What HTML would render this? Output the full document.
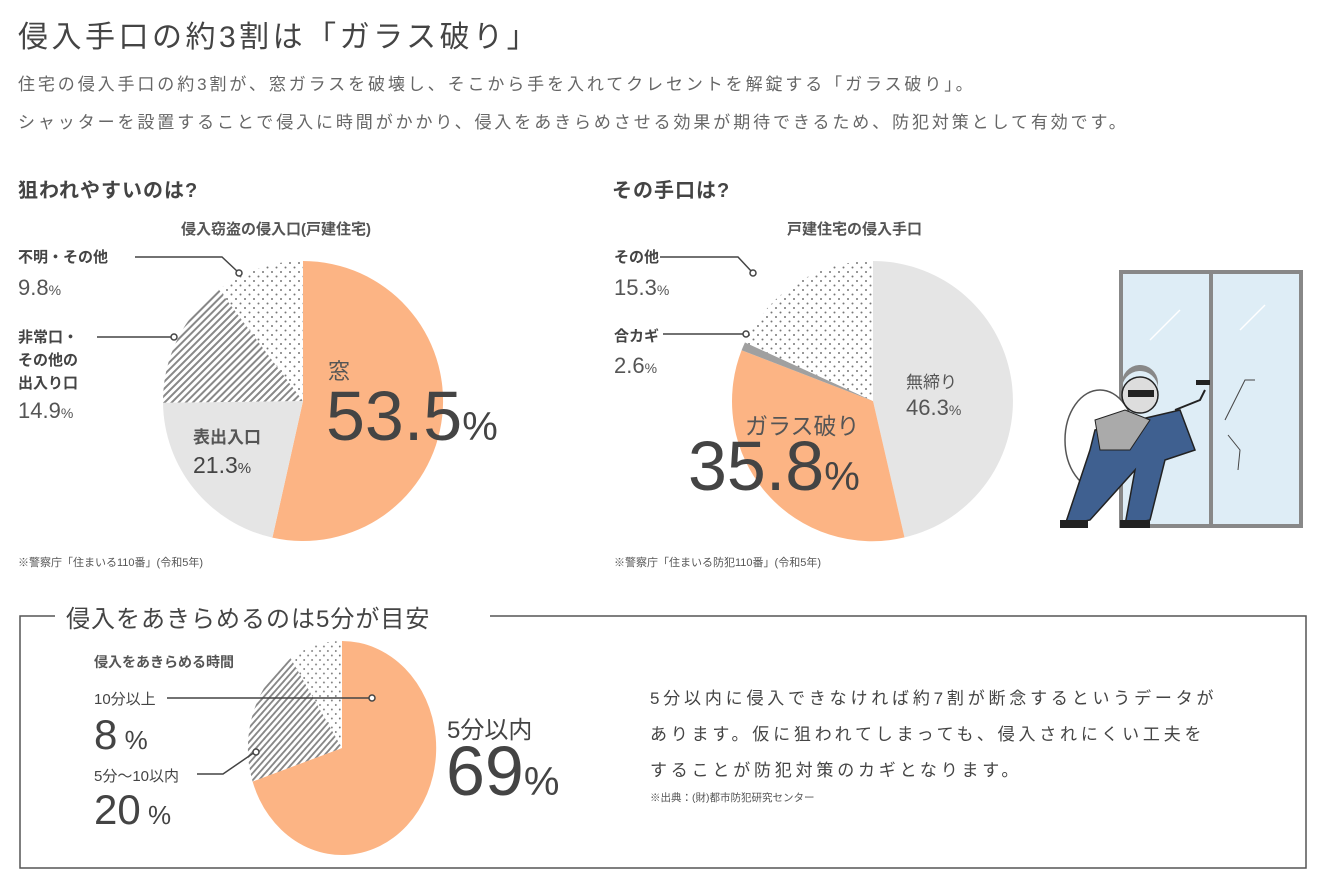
<!DOCTYPE html>
<html><head><meta charset="utf-8"><style>
body{margin:0;width:1319px;height:877px;background:#fff;font-family:"Liberation Sans","Noto Sans CJK JP",sans-serif;color:#444;position:relative;overflow:hidden}
.t{position:absolute;white-space:nowrap}
</style></head><body>
<div class="t" style="left:18px;top:12px;font-size:30px;color:#444;letter-spacing:3.5px">侵入手口の約3割は「ガラス破り」</div>
<div class="t" style="left:18px;top:70px;font-size:17px;color:#666;letter-spacing:2.9px">住宅の侵入手口の約3割が、窓ガラスを破壊し、そこから手を入れてクレセントを解錠する「ガラス破り」。</div>
<div class="t" style="left:18px;top:108px;font-size:17px;color:#666;letter-spacing:2.9px">シャッターを設置することで侵入に時間がかかり、侵入をあきらめさせる効果が期待できるため、防犯対策として有効です。</div>
<div class="t" style="left:18px;top:174px;font-size:20px;font-weight:bold;color:#444;letter-spacing:1px">狙われやすいのは?</div>
<div class="t" style="left:612px;top:174px;font-size:20px;font-weight:bold;color:#444;letter-spacing:1px">その手口は?</div>

<svg width="1319" height="877" style="position:absolute;left:0;top:0">
<defs>
<pattern id="dots" width="9" height="9" patternUnits="userSpaceOnUse"><rect width="9" height="9" fill="#fff"/><circle cx="2" cy="2" r="1" fill="#777"/><circle cx="6.5" cy="6.5" r="1" fill="#777"/></pattern>
<pattern id="hatch" width="5" height="5" patternUnits="userSpaceOnUse" patternTransform="rotate(45)"><rect width="5" height="5" fill="#fff"/><rect width="2" height="5" fill="#888"/></pattern>
</defs>
<g>
<path d="M303,401 L303,261 A140,140 0 1,1 272.4,537.6 Z" fill="#fcb484"/>
<path d="M303,401 L272.4,537.6 A140,140 0 0,1 163,402.7 Z" fill="#e5e5e5"/>
<path d="M303,401 L163,402.7 A140,140 0 0,1 218.7,289.3 Z" fill="url(#hatch)"/>
<path d="M303,401 L218.7,289.3 A140,140 0 0,1 303,261 Z" fill="url(#dots)"/>
</g>
<polyline points="135,257 222,257 238,272" fill="none" stroke="#444" stroke-width="1.5"/><circle cx="239" cy="273" r="3" fill="#fff" stroke="#444" stroke-width="1.5"/>
<polyline points="97,337 172,337" fill="none" stroke="#444" stroke-width="1.5"/><circle cx="174" cy="337" r="3" fill="#fff" stroke="#444" stroke-width="1.5"/>
<g>
<path d="M873,401 L873,261 A140,140 0 0,1 904.5,537.4 Z" fill="#e5e5e5"/>
<path d="M873,401 L904.5,537.4 A140,140 0 0,1 741.6,350.3 Z" fill="#fcb484"/>
<path d="M873,401 L741.6,350.3 A140,140 0 0,1 745,342.4 Z" fill="#a0a0a0"/>
<path d="M873,401 L745,342.4 A140,140 0 0,1 873,261 Z" fill="url(#dots)"/>
</g>
<polyline points="660,257 738,257 752,272" fill="none" stroke="#444" stroke-width="1.5"/><circle cx="753" cy="273" r="3" fill="#fff" stroke="#444" stroke-width="1.5"/>
<polyline points="663,334 745,334" fill="none" stroke="#444" stroke-width="1.5"/><circle cx="746" cy="334" r="3" fill="#fff" stroke="#444" stroke-width="1.5"/>
<rect x="1119" y="270" width="184" height="258" fill="#888"/>
<rect x="1123" y="274" width="86" height="250" fill="#deedf6"/>
<rect x="1213" y="274" width="86" height="250" fill="#deedf6"/>
<line x1="1150" y1="340" x2="1180" y2="310" stroke="#fff" stroke-width="1.5"/>
<line x1="1240" y1="330" x2="1265" y2="305" stroke="#fff" stroke-width="1.5"/>
<polyline points="1225,420 1235,400 1245,380 1255,380" fill="none" stroke="#444"/>
<polyline points="1228,435 1240,450 1238,470" fill="none" stroke="#444"/>
<ellipse cx="1100" cy="440" rx="35" ry="50" fill="#fff" stroke="#555" stroke-width="1.5"/>
<path d="M1095,430 L1180,410 L1195,450 L1165,460 L1150,520 L1125,525 L1135,470 L1090,520 L1065,525 L1090,450 Z" fill="#3f6090" stroke="#222" stroke-width="1.5"/>
<path d="M1095,420 L1125,410 L1150,420 L1130,450 L1100,450 Z" fill="#aaa" stroke="#222"/>
<circle cx="1140" cy="395" r="18" fill="#ddd" stroke="#222" stroke-width="1.5"/>
<path d="M1122,390 A18,18 0 0,1 1158,388 L1158,382 A18,18 0 0,0 1122,384 Z" fill="#888"/>
<rect x="1128" y="390" width="26" height="7" fill="#222"/>
<path d="M1175,410 L1200,400 L1205,390" fill="none" stroke="#222" stroke-width="2"/>
<rect x="1196" y="380" width="14" height="5" fill="#222"/>
<rect x="1060" y="520" width="28" height="8" fill="#222"/><rect x="1120" y="520" width="30" height="8" fill="#222"/>
<polyline points="55,616 20,616 20,868 1306,868 1306,616 490,616" fill="none" stroke="#555" stroke-width="1.5"/>
<g transform="translate(342,748) scale(0.88,1)">
<path d="M0,0 L0,-107 A107,107 0 1,1 -101.6,33.5 Z" fill="#fcb484"/>
<path d="M0,0 L-101.6,33.5 A107,107 0 0,1 -58.3,-89.7 Z" fill="url(#hatch)"/>
<path d="M0,0 L-58.3,-89.7 A107,107 0 0,1 0,-107 Z" fill="url(#dots)"/>
</g>
<line x1="167" y1="698" x2="370" y2="698" stroke="#444" stroke-width="1.5"/><circle cx="372" cy="698" r="3" fill="#fff" stroke="#444" stroke-width="1.5"/>
<polyline points="197,774 223,774 255,752" fill="none" stroke="#444" stroke-width="1.5"/><circle cx="256" cy="752" r="3" fill="#fff" stroke="#444" stroke-width="1.5"/>
</svg>

<div class="t" style="left:181px;top:218px;font-size:15px;font-weight:bold;color:#555">侵入窃盗の侵入口(戸建住宅)</div>
<div class="t" style="left:18px;top:246px;font-size:15px;font-weight:bold;color:#444">不明・その他</div>
<div class="t" style="left:18px;top:275px;font-size:22px;color:#555">9.8<span style="font-size:14px">%</span></div>
<div class="t" style="left:18px;top:326px;font-size:15px;font-weight:bold;color:#444;line-height:23px">非常口・<br>その他の<br>出入り口</div>
<div class="t" style="left:18px;top:398px;font-size:22px;color:#555">14.9<span style="font-size:14px">%</span></div>
<div class="t" style="left:193px;top:423px;font-size:17px;font-weight:bold;color:#555">表出入口</div>
<div class="t" style="left:193px;top:452px;font-size:23px;color:#444">21.3<span style="font-size:15px">%</span></div>
<div class="t" style="left:328px;top:354px;font-size:22px;color:#555">窓</div>
<div class="t" style="left:326px;top:380px;font-size:70px;color:#444;line-height:72px">53.5<span style="font-size:40px">%</span></div>
<div class="t" style="left:18px;top:554px;font-size:11px;color:#555">※警察庁「住まいる110番」(令和5年)</div>

<div class="t" style="left:787px;top:218px;font-size:15px;font-weight:bold;color:#555">戸建住宅の侵入手口</div>
<div class="t" style="left:614px;top:246px;font-size:15px;font-weight:bold;color:#444">その他</div>
<div class="t" style="left:614px;top:275px;font-size:22px;color:#555">15.3<span style="font-size:14px">%</span></div>
<div class="t" style="left:614px;top:325px;font-size:15px;font-weight:bold;color:#444">合カギ</div>
<div class="t" style="left:614px;top:353px;font-size:22px;color:#555">2.6<span style="font-size:14px">%</span></div>
<div class="t" style="left:906px;top:368px;font-size:17px;color:#555">無締り</div>
<div class="t" style="left:906px;top:395px;font-size:22px;color:#555">46.3<span style="font-size:14px">%</span></div>
<div class="t" style="left:745px;top:407px;font-size:23px;color:#555">ガラス破り</div>
<div class="t" style="left:688px;top:430px;font-size:70px;color:#444;line-height:72px">35.8<span style="font-size:40px">%</span></div>
<div class="t" style="left:614px;top:554px;font-size:11px;color:#555">※警察庁「住まいる防犯110番」(令和5年)</div>

<div class="t" style="left:66px;top:599px;font-size:24px;color:#444;letter-spacing:1px">侵入をあきらめるのは5分が目安</div>
<div class="t" style="left:94px;top:652px;font-size:14px;font-weight:bold;color:#555">侵入をあきらめる時間</div>
<div class="t" style="left:94px;top:688px;font-size:15px;color:#444">10分以上</div>
<div class="t" style="left:94px;top:711px;font-size:42px;color:#444;line-height:48px">8<span style="font-size:26px"> %</span></div>
<div class="t" style="left:94px;top:765px;font-size:15px;color:#444">5分～10以内</div>
<div class="t" style="left:94px;top:786px;font-size:42px;color:#444;line-height:48px">20<span style="font-size:26px"> %</span></div>
<div class="t" style="left:447px;top:710px;font-size:24px;color:#444">5分以内</div>
<div class="t" style="left:446px;top:735px;font-size:70px;color:#444;line-height:72px">69<span style="font-size:40px">%</span></div>
<div class="t" style="left:650px;top:681px;font-size:17px;color:#444;line-height:36px;letter-spacing:3.8px">5分以内に侵入できなければ約7割が断念するというデータが<br>あります。仮に狙われてしまっても、侵入されにくい工夫を<br>することが防犯対策のカギとなります。</div>
<div class="t" style="left:650px;top:790px;font-size:10.5px;color:#555">※出典：(財)都市防犯研究センター</div>
</body></html>
